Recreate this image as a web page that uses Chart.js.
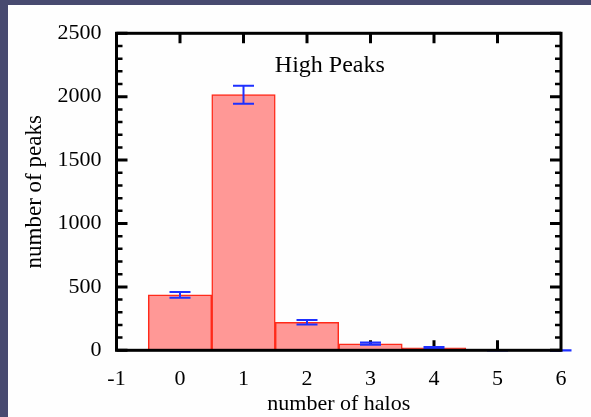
<!DOCTYPE html>
<html><head><meta charset="utf-8">
<script src="https://cdn.jsdelivr.net/npm/chart.js@4/dist/chart.umd.min.js"></script>
<style>html,body{margin:0;padding:0;background:#484a70;overflow:hidden}canvas{display:block}</style>
</head><body>
<canvas id="c" width="591" height="417"></canvas>
<script>
// ---- data ----
const haloCounts = [0, 1, 2, 3, 4, 5];
const peakCounts = [437, 2016, 221, 52, 20, 0];
const errX = [0, 1, 2, 3, 4, 5, 6];
const errCenter = [437, 2016, 221, 52, 20, 1, 0];
const errSize = [22, 71, 18, 9, 6, 2, 1];
const xTickValues = [-1, 0, 1, 2, 3, 4, 5, 6];
const yTickValues = [0, 500, 1000, 1500, 2000, 2500];
const yMinorStep = 100;
const plotTitle = 'High Peaks';
const xTitle = 'number of halos';
const yTitle = 'number of peaks';

const FONT = "'Liberation Serif', 'Times New Roman', serif";

const decor = {
  id: 'decor',
  beforeDraw(chart) {
    const ctx = chart.ctx;
    ctx.save();
    ctx.fillStyle = '#484a70';
    ctx.fillRect(0, 0, chart.width, chart.height);
    ctx.fillStyle = '#fefefe';
    ctx.fillRect(8, 5, chart.width - 8, chart.height - 5);
    ctx.restore();
  },
  beforeDatasetsDraw(chart) {
    const {ctx, chartArea: {left, right, top, bottom}, scales: {x, y}} = chart;
    ctx.save();
    ctx.strokeStyle = '#000';
    ctx.lineWidth = 3;
    ctx.lineCap = 'butt';
    xTickValues.slice(1, -1).forEach(v => {
      const px = x.getPixelForValue(v);
      ctx.beginPath();
      ctx.moveTo(px, top); ctx.lineTo(px, top + 10);
      ctx.moveTo(px, bottom); ctx.lineTo(px, bottom - 10);
      ctx.stroke();
    });
    for (let v = y.min; v <= y.max; v += yMinorStep) {
      const py = y.getPixelForValue(v);
      const major = yTickValues.includes(v);
      const len = major ? 11 : 6;
      ctx.lineWidth = major ? 3 : 2.5;
      ctx.beginPath();
      ctx.moveTo(left, py); ctx.lineTo(left + len, py);
      ctx.moveTo(right, py); ctx.lineTo(right - len, py);
      ctx.stroke();
    }
    ctx.restore();
  },
  afterDatasetsDraw(chart) {
    const {ctx, chartArea: {left, right, top, bottom}, scales: {x, y}} = chart;
    ctx.save();
    // error bars
    ctx.strokeStyle = '#1e30ff';
    ctx.lineWidth = 2;
    errX.forEach((xv, i) => {
      const px = x.getPixelForValue(xv);
      const pLo = y.getPixelForValue(errCenter[i] - errSize[i]);
      const pHi = y.getPixelForValue(errCenter[i] + errSize[i]);
      const cap = 10.5;
      ctx.beginPath();
      ctx.moveTo(px, pLo); ctx.lineTo(px, pHi);
      ctx.moveTo(px - cap, pLo); ctx.lineTo(px + cap, pLo);
      ctx.moveTo(px - cap, pHi); ctx.lineTo(px + cap, pHi);
      ctx.stroke();
    });
    // frame
    ctx.strokeStyle = '#000';
    ctx.lineWidth = 3;
    ctx.strokeRect(left, top, right - left, bottom - top);
    // inner title
    ctx.fillStyle = '#000';
    ctx.font = "24px " + FONT;
    ctx.textAlign = 'center';
    ctx.textBaseline = 'alphabetic';
    ctx.fillText(plotTitle, left + 0.48 * (right - left), top + 38.4);
    ctx.restore();
  }
};

new Chart(document.getElementById('c'), {
  type: 'bar',
  data: {
    datasets: [{
      data: haloCounts.map((h, i) => ({x: h, y: peakCounts[i]})),
      backgroundColor: '#ff9896',
      borderColor: '#ff2a1a',
      borderWidth: 1.5,
      barPercentage: 1,
      categoryPercentage: 1
    }]
  },
  options: {
    responsive: false,
    animation: false,
    devicePixelRatio: 1,
    layout: {padding: {left: 0, top: 33.3, right: 30, bottom: 0}},
    plugins: {legend: {display: false}, tooltip: {enabled: false}, title: {display: false}},
    scales: {
      x: {
        type: 'linear', min: -1, max: 6, offset: false,
        grid: {display: false, drawTicks: false},
        border: {display: false},
        afterBuildTicks: s => { s.ticks = xTickValues.map(v => ({value: v})); },
        ticks: {color: '#000', font: {family: FONT, size: 22}, padding: 16, maxRotation: 0, autoSkip: false,
                callback: v => String(v)},
        title: {display: true, text: xTitle, color: '#000', font: {family: FONT, size: 22}, padding: {top: 0, bottom: 0}},
        afterFit: s => { s.height = 66.7; }
      },
      y: {
        type: 'linear', min: 0, max: 2500,
        grid: {display: false, drawTicks: false},
        border: {display: false},
        afterBuildTicks: s => { s.ticks = yTickValues.map(v => ({value: v})); },
        ticks: {color: '#000', font: {family: FONT, size: 22}, padding: 15, callback: v => String(v)},
        title: {display: true, text: yTitle, color: '#000', font: {family: FONT, size: 23}, padding: {top: 21, bottom: 0}},
        afterFit: s => { s.width = 116.5; }
      }
    }
  },
  plugins: [decor]
});
</script>
</body></html>
